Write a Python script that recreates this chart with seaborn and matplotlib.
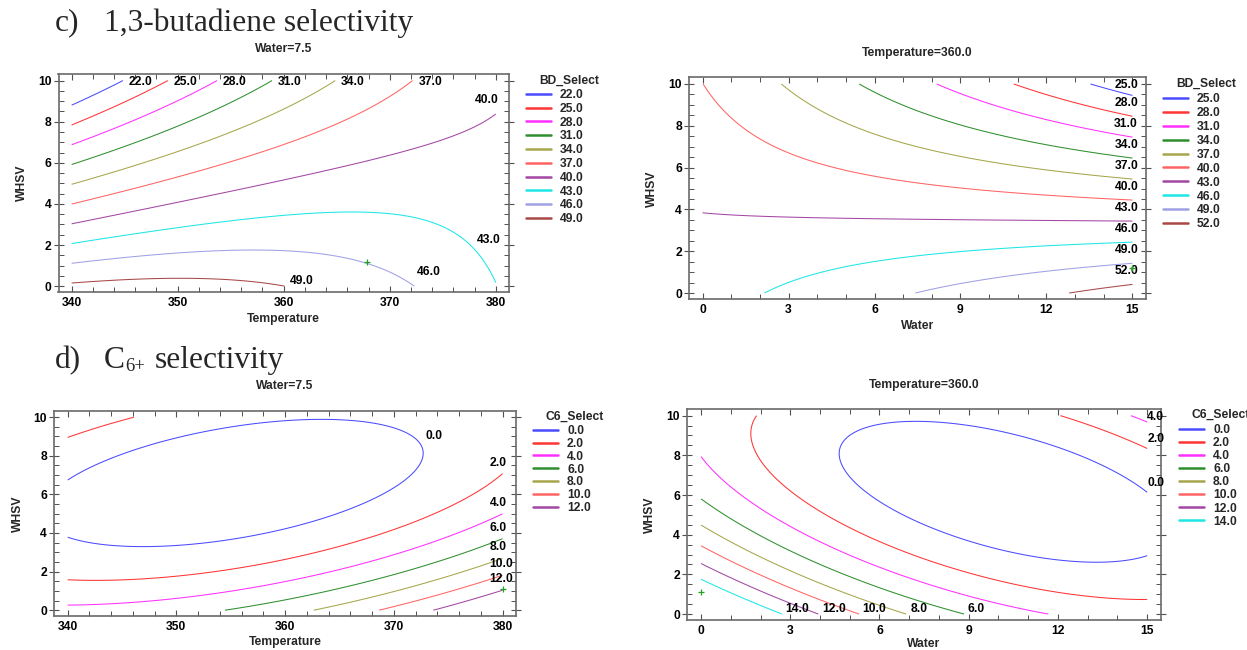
import numpy as np
import matplotlib
matplotlib.use("Agg")
import matplotlib.pyplot as plt
from matplotlib.lines import Line2D
from matplotlib.ticker import MultipleLocator
import seaborn as sns

# ------------------------------------------------------------------
# Values
# ------------------------------------------------------------------
# c) left : BD_Select vs Temperature / WHSV  (Water = 7.5)
bd_t_levels = [22, 25, 28, 31, 34, 37, 40, 43, 46, 49]
bd_t_pt_level = [22, 22, 25, 25, 28, 28, 31, 31, 31, 34, 34, 34,
                 37, 37, 37, 37, 40, 40, 40, 40, 43, 43, 43, 43, 43,
                 46, 46, 46, 46, 49, 49, 49]
bd_t_pt_temp = [340, 344.7, 340, 349.0, 340, 353.6, 340, 350.1, 358.8, 340, 355.7, 364.8,
                340, 359.4, 365.0, 372.2, 340, 359.4, 368.7, 380, 340, 366.1, 372.5, 377.3, 379.7,
                340, 356.4, 368.0, 372.1, 340, 350.1, 360.1]
bd_t_pt_whsv = [8.81, 10, 7.81, 10, 6.85, 10, 5.91, 7.92, 10, 4.97, 7.14, 10,
                4.03, 6.87, 7.92, 10, 3.02, 5.16, 6.30, 8.0, 2.08, 3.62, 3.38, 2.73, 0,
                1.10, 1.79, 1.10, 0, 0.16, 0.37, 0]

# c) right : BD_Select vs Water / WHSV  (Temperature = 360)
bd_w_levels = [25, 28, 31, 34, 37, 40, 43, 46, 49, 52]
bd_w_pt_level = [25, 25, 28, 28, 28, 31, 31, 31, 34, 34, 34, 34,
                 37, 37, 37, 37, 37, 40, 40, 40, 40, 40, 40, 40,
                 43, 43, 43, 46, 46, 46, 46, 46, 46, 49, 49, 49, 49, 52, 52]
bd_w_pt_water = [13.43, 15, 10.76, 12.87, 15, 8.10, 11.06, 15, 5.45, 8.28, 11.06, 15,
                 2.78, 5.50, 8.28, 11.06, 15, 0.07, 1.32, 2.71, 5.50, 8.28, 11.06, 15,
                 0, 5.5, 15, 2.23, 3.41, 5.50, 8.28, 11.06, 15, 7.44, 9.67, 12.45, 15, 12.70, 15]
bd_w_pt_whsv = [10, 9.47, 10, 9.16, 8.41, 10, 8.68, 7.44, 10, 8.47, 7.48, 6.43,
                10, 7.80, 6.77, 6.13, 5.46, 10, 7.96, 6.77, 5.57, 5.10, 4.78, 4.46,
                3.74, 3.50, 3.42, 0, 1.04, 1.43, 1.91, 2.15, 2.44, 0, 0.48, 1.04, 1.46, 0, 0.45]

# d) left : C6_Select vs Temperature / WHSV  (Water = 7.5)
c6_t_levels = [0, 2, 4, 6, 8, 10, 12]
c6_t_pt_level = [0] * 11 + [2] * 7 + [4] * 5 + [6] * 3 + [8] * 2 + [10] * 2 + [12] * 2
c6_t_pt_temp = [340, 344.7, 351.9, 362.5, 370.1, 372.5, 370.1, 362.9, 355.6, 348.3, 340,
                340, 346.5, 359.2, 370.1, 380, 340, 346.3,
                340, 351.9, 362.9, 373.8, 380,
                354.6, 366.5, 380, 362.6, 380, 368.6, 380, 373.7, 380]
c6_t_pt_whsv = [6.67, 8.10, 9.34, 9.86, 9.34, 8.14, 6.41, 4.86, 3.74, 3.31, 3.79,
                1.55, 1.67, 2.62, 4.00, 7.10, 8.91, 10,
                0.24, 0.72, 1.76, 3.48, 5.00,
                0, 1.41, 3.71, 0, 2.69, 0, 1.79, 0, 1.07]

# d) right : C6_Select vs Water / WHSV  (Temperature = 360)
c6_w_levels = [0, 2, 4, 6, 8, 10, 12, 14]
c6_w_pt_level = [0] * 11 + [2] * 9 + [4] * 6 + [6] * 3 + [8] * 3 + [10] * 3 + [12] * 2 + [14] * 2
c6_w_pt_water = [15, 13.41, 10.73, 7.16, 5.35, 4.48, 5.35, 8.04, 10.73, 13.41, 15,
                 1.99, 1.72, 2.66, 5.35, 9.38, 12.07, 15, 12.10, 15,
                 0, 2.66, 6.69, 11.73, 14.42, 15,
                 0, 4.0, 8.82, 0, 4.0, 6.90, 0, 2.66, 5.28, 0, 3.87, 0, 2.73]
c6_w_pt_whsv = [6.26, 7.60, 8.94, 9.78, 9.53, 8.10, 6.09, 4.24, 3.07, 2.53, 2.90,
                9.98, 8.94, 6.76, 3.74, 1.73, 1.06, 0.81, 10, 8.36,
                7.97, 4.92, 2.23, 0, 10, 9.61,
                5.76, 2.73, 0, 4.45, 1.73, 0, 3.41, 1.39, 0, 2.52, 0, 1.76, 0]

# small green "+" markers
opt_bd_t = (367.9, 1.15)
opt_bd_w = (15.0, 1.2)
opt_c6_t = (380.0, 1.12)
opt_c6_w = (0.0, 1.11)

# axis ranges
temp_range, water_range, whsv_range = (340, 380), (0, 15), (0, 10)
contour_colors = ['#4b4bff', '#ff3434', '#ff30ff', '#2f8f2f', '#a6a64c',
                  '#ff6464', '#a347a3', '#1ee6e6', '#a0a0e6', '#a84848']

# ------------------------------------------------------------------
DPI = 100
PX = 72.0 / DPI
FS = 8.7

sns.set_theme(style="ticks", rc={"axes.facecolor": "white", "figure.facecolor": "white"})
plt.rcParams['font.family'] = ['Liberation Sans', 'DejaVu Sans']
plt.rcParams['font.weight'] = 'bold'
plt.rcParams['axes.labelweight'] = 'bold'
plt.rcParams['axes.titleweight'] = 'bold'


def fit_quadratic(x, y, z, xc, xs, yc, ys):
    u = (np.asarray(x, float) - xc) / xs
    v = (np.asarray(y, float) - yc) / ys
    A = np.column_stack([np.ones_like(u), u, v, u * u, v * v, u * v])
    coef, *_ = np.linalg.lstsq(A, np.asarray(z, float), rcond=None)
    return coef


def eval_quadratic(coef, X, Y, xc, xs, yc, ys):
    u = (X - xc) / xs
    v = (Y - yc) / ys
    return coef[0] + coef[1] * u + coef[2] * v + coef[3] * u * u + coef[4] * v * v + coef[5] * u * v


def label_contours(ax, cs, levels, xr, yr, rules, overrides=None):
    overrides = overrides or {}
    texts = []
    tolx = (xr[1] - xr[0]) * 1e-3
    toly = (yr[1] - yr[0]) * 1e-3
    for lev, path in zip(levels, cs.get_paths()):
        pts = path.vertices
        if len(pts) == 0:
            continue
        xm = pts[:, 0].max()
        cand = pts[pts[:, 0] >= xm - tolx]
        x, y = cand[np.argmax(cand[:, 1])]
        if lev in overrides:
            key = overrides[lev]
        elif x >= xr[1] - tolx:
            key = rules['right']
        elif y >= yr[1] - toly:
            key = rules['top']
        elif y <= yr[0] + toly:
            key = rules['bottom']
        else:
            key = rules['inner']
        dx, dy, ha, va = key
        t = ax.annotate(f"{lev:.1f}", (x, y), xytext=(dx * PX, dy * PX),
                        textcoords='offset points', ha=ha, va=va, fontsize=FS,
                        fontweight='bold', color='black', annotation_clip=False)
        texts.append(t)
    return texts


def style_axes(ax, xr, xmaj, xmin_, xlabel, title, xlabelpad, ylabelpad):
    xpad = (xr[1] - xr[0]) * 0.031
    ax.set_xlim(xr[0] - xpad, xr[1] + xpad)
    ax.set_ylim(-0.3, 10.32)
    ax.xaxis.set_major_locator(MultipleLocator(xmaj))
    ax.xaxis.set_minor_locator(MultipleLocator(xmin_))
    ax.yaxis.set_major_locator(MultipleLocator(2))
    ax.yaxis.set_minor_locator(MultipleLocator(0.5))
    for sp in ax.spines.values():
        sp.set_color('#6a6a6a')
        sp.set_linewidth(1.2)
    ax.tick_params(axis='both', which='both', top=True, right=True, colors='#505050',
                   labelcolor='black', labelsize=FS)
    ax.tick_params(axis='x', which='major', direction='in', length=4.5, width=0.8, pad=3.6)
    ax.tick_params(axis='y', which='major', direction='inout', length=7, width=0.8, pad=1.6)
    ax.tick_params(axis='both', which='minor', direction='in', length=3.5, width=0.7)
    ax.set_xlabel(xlabel, fontsize=FS, labelpad=xlabelpad)
    ax.set_ylabel('WHSV', fontsize=FS, labelpad=ylabelpad)
    ax.set_title(title, fontsize=FS, pad=15.5)


fig = plt.figure(figsize=(12.47, 6.5), dpi=DPI)
W, H = 1247.0, 650.0


def add_ax(l, r, t, b):
    return fig.add_axes([l / W, 1 - b / H, (r - l) / W, (b - t) / H])


panels = [
    dict(box=(58.5, 508.9, 74.0, 292.3), xr=temp_range, xmaj=10, xmin=2, xlabel='Temperature',
         title='Water=7.5', px=bd_t_pt_temp, py=bd_t_pt_whsv, pz=bd_t_pt_level, levels=bd_t_levels,
         xc=360, xs=20, leg_title='BD_Select', leg=(526, 89, 539, 81), spacing=0.15, opt=opt_bd_t,
         xlp=3.0, ylp=7.2,
         rules={'right': (-21, 8, 'left', 'bottom'), 'top': (6, 0, 'left', 'center'),
                'bottom': (6, -1, 'left', 'bottom'), 'inner': (3, 8, 'left', 'bottom')},
         overrides={43: (-19, 36, 'left', 'bottom')}),
    dict(box=(689.2, 1145.8, 77.3, 299.3), xr=water_range, xmaj=3, xmin=1, xlabel='Water',
         title='Temperature=360.0', px=bd_w_pt_water, py=bd_w_pt_whsv, pz=bd_w_pt_level,
         levels=bd_w_levels, xc=7.5, xs=7.5, leg_title='BD_Select', leg=(1163, 93, 1175.8, 83.7),
         spacing=0.16, opt=opt_bd_w, xlp=3.0, ylp=7.5,
         rules={'right': (-18, 7, 'left', 'bottom'), 'top': (6, 0, 'left', 'center'),
                'bottom': (6, 0, 'left', 'bottom'), 'inner': (3, 8, 'left', 'bottom')}),
    dict(box=(54.2, 516.0, 411.0, 616.0), xr=temp_range, xmaj=10, xmin=2, xlabel='Temperature',
         title='Water=7.5', px=c6_t_pt_temp, py=c6_t_pt_whsv, pz=c6_t_pt_level, levels=c6_t_levels,
         xc=360, xs=20, leg_title='C6_Select', leg=(533, 425, 545.7, 417), spacing=0.07,
         opt=opt_c6_t, xlp=2.5, ylp=7.2,
         rules={'right': (-13, 5, 'left', 'bottom'), 'top': (6, 0, 'left', 'center'),
                'bottom': (6, 0, 'left', 'bottom'), 'inner': (3, 8, 'left', 'bottom')}),
    dict(box=(687.2, 1161.0, 409.3, 620.0), xr=water_range, xmaj=3, xmin=1, xlabel='Water',
         title='Temperature=360.0', px=c6_w_pt_water, py=c6_w_pt_whsv, pz=c6_w_pt_level,
         levels=c6_w_levels, xc=7.5, xs=7.5, leg_title='C6_Select', leg=(1179, 424, 1191, 415),
         spacing=0.09, opt=opt_c6_w, xlp=1.0, ylp=8.0,
         rules={'right': (0, 3, 'left', 'bottom'), 'top': (6, 0, 'left', 'center'),
                'bottom': (4, -1, 'left', 'bottom'), 'inner': (3, 8, 'left', 'bottom')}),
]

all_labels = []
for p in panels:
    ax = add_ax(*p['box'])
    coef = fit_quadratic(p['px'], p['py'], p['pz'], p['xc'], p['xs'], 5.0, 5.0)
    gx = np.linspace(p['xr'][0], p['xr'][1], 400)
    gy = np.linspace(whsv_range[0], whsv_range[1], 300)
    GX, GY = np.meshgrid(gx, gy)
    Z = eval_quadratic(coef, GX, GY, p['xc'], p['xs'], 5.0, 5.0)
    cols = contour_colors[:len(p['levels'])]
    cs = ax.contour(GX, GY, Z, levels=p['levels'], colors=cols, linewidths=0.75)
    style_axes(ax, p['xr'], p['xmaj'], p['xmin'], p['xlabel'], p['title'], p['xlp'], p['ylp'])
    ax.plot([p['opt'][0]], [p['opt'][1]], marker='+', color='#22a022', ms=5, mew=0.9,
            linestyle='none', clip_on=False, zorder=5)
    texts = label_contours(ax, cs, p['levels'], p['xr'], whsv_range, p['rules'], p.get('overrides'))
    all_labels.append((ax, texts))
    handles = [Line2D([], [], color=c, lw=1.8) for c in cols]
    lx, ly, tx, ty = p['leg']
    ax.legend(handles, [f"{v:.1f}" for v in p['levels']], loc='upper left',
              bbox_to_anchor=(lx / W, 1 - ly / H), bbox_transform=fig.transFigure,
              frameon=False, fontsize=FS, borderpad=0, borderaxespad=0,
              handlelength=2.07, handletextpad=0.75, labelspacing=p['spacing'])
    fig.text(tx / W, 1 - ty / H, p['leg_title'], fontsize=FS, fontweight='bold',
             ha='left', va='center')

# section headings (Times-like serif)
HFS = 22.7
serif = dict(family='Liberation Serif', fontweight='normal', va='baseline')
fig.text(54.6 / W, 1 - 30.7 / H, 'c)', fontsize=HFS, **serif)
fig.text(103.6 / W, 1 - 30.7 / H, '1,3-butadiene selectivity', fontsize=HFS, **serif)
fig.text(54.6 / W, 1 - 368 / H, 'd)', fontsize=HFS, **serif)
fig.text(103.6 / W, 1 - 368 / H, 'C', fontsize=HFS, **serif)
fig.text(125.3 / W, 1 - 371 / H, '6+', fontsize=13.5, **serif)
fig.text(155.0 / W, 1 - 368 / H, 'selectivity', fontsize=HFS, **serif)

# keep contour labels inside the top of the frame
fig.canvas.draw()
for ax, texts in all_labels:
    top = ax.get_window_extent().y1 - 2
    for t in texts:
        bb = t.get_window_extent()
        if bb.y1 > top:
            shift = bb.y1 - top
            t.xyann = (t.xyann[0], t.xyann[1] - shift * PX)

fig.savefig('out.png', dpi=DPI)
